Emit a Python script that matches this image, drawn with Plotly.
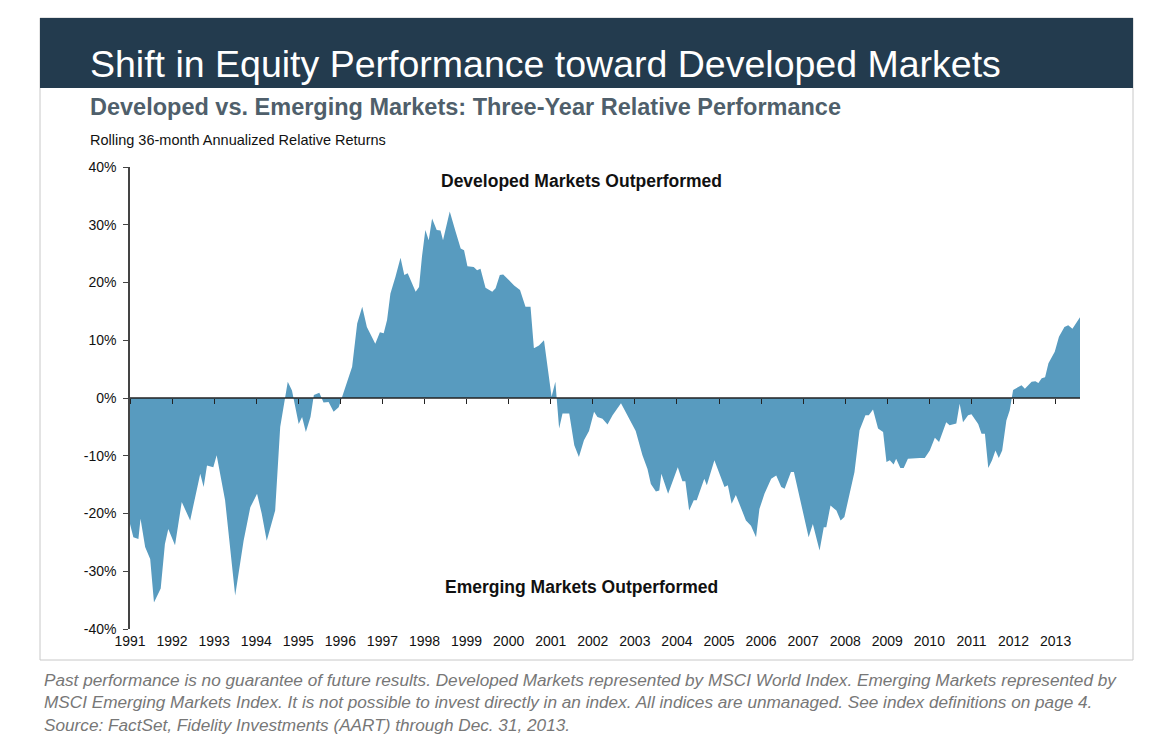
import plotly.graph_objects as go

# years after Jan 1991
offsets = [0, .08, .20, .25, .36, .48, .57, .73, .83, .91, 1.07, 1.23, 1.43, 1.67, 1.75, 1.83, 1.98, 2.06,
           2.26, 2.50, 2.70, 2.86, 3.02, 3.13, 3.25, 3.45, 3.57, 3.75, 3.85, 4.01, 4.09, 4.18, 4.29, 4.37,
           4.50, 4.60, 4.72, 4.84, 4.96, 5.08, 5.20, 5.28, 5.40, 5.52, 5.63, 5.83, 5.94, 6.03, 6.11, 6.19,
           6.31, 6.43, 6.52, 6.60, 6.79, 6.87, 6.94, 7.02, 7.10, 7.18, 7.29, 7.38, 7.44, 7.60, 7.74, 7.86,
           7.94, 8.02, 8.17, 8.25, 8.33, 8.45, 8.61, 8.69, 8.79, 8.87, 9.01, 9.13, 9.27, 9.40, 9.52, 9.60,
           9.72, 9.84, 10.02, 10.11, 10.20, 10.28, 10.44, 10.56,
           10.67, 10.79, 10.91, 11.03, 11.11, 11.23, 11.35, 11.47, 11.67, 11.87, 12.02, 12.18, 12.30, 12.38,
           12.50, 12.58, 12.63, 12.79, 13.02, 13.13, 13.20, 13.29, 13.40, 13.47, 13.65, 13.71, 13.89, 14.13,
           14.21, 14.30, 14.40, 14.64, 14.76, 14.88, 14.96, 15.08, 15.24, 15.36, 15.48, 15.56, 15.71, 15.78,
           15.95, 16.13, 16.23, 16.39, 16.49, 16.55, 16.65, 16.79, 16.89, 16.98, 17.22, 17.34, 17.48, 17.56,
           17.66, 17.78, 17.90, 17.98, 18.06, 18.15, 18.21, 18.31, 18.39, 18.49, 18.77, 18.89, 19.01, 19.13,
           19.23, 19.33, 19.40, 19.48, 19.64, 19.72, 19.80, 19.92, 20.00, 20.16, 20.24, 20.32, 20.40, 20.49,
           20.57, 20.65, 20.73, 20.83, 20.91, 20.99, 21.11, 21.19, 21.27, 21.43, 21.52, 21.59, 21.67, 21.75,
           21.83, 21.98, 22.08, 22.21, 22.30, 22.40, 22.58]

rel_returns = [-21.8, -24.1, -24.4, -20.9, -25.8, -27.9, -35.4, -33, -25.3, -22.7, -25.5, -18, -21.2, -13.1,
               -15.4, -11.7, -12, -9.9, -17.7, -34.2, -24.7, -18.9, -16.6, -20, -24.7, -19.5, -5, 2.8, 1.3,
               -4.5, -3.3, -5.9, -3.3, 0.5, 0.9, -0.8, -0.7, -2.4, -1.6, 1, 3.6, 5.4, 12.9, 15.8, 12.3, 9.4,
               11.4, 11.2, 13.5, 18.1, 21, 24.3, 21.3, 21.6, 18.4, 19.2, 24.5, 29.1, 27.3, 31.1, 29.1, 29,
               27.3, 32.3, 28.8, 25.9, 25.6, 22.8, 22.7, 22.1, 22.4, 19.1, 18.4, 19, 21.3, 21.4, 20.4, 19.5,
               18.7, 15.8, 15.8, 8.6, 9.1, 10, 0.2, 2.8, -5.3, -2.7, -2.7, -8.2,
               -10.2, -7.3, -5.7, -2.4, -3.3, -3.6, -4.6, -3, -0.9, -3.6, -5.7, -9.9, -12.3, -14.9, -16.2,
               -16, -13.1, -16.6, -12, -14.4, -14.4, -19.5, -17.7, -17.7, -14, -15.1, -10.8, -15.4, -15.1,
               -18.3, -16.8, -21.2, -22.1, -24.1, -19.2, -16.6, -14, -13.4, -15.4, -15.7, -12.8, -12.8,
               -18.3, -24.1, -21.8, -26.4, -22.4, -22.4, -18.6, -19.5, -21.2, -20.6, -12.8, -5.6, -3, -3,
               -2, -5.3, -5.9, -11.1, -10.8, -11.5, -10.5, -12.1, -12.1, -10.5, -10.4, -10.4, -9.1, -6.9,
               -7.6, -5.6, -4.2, -4.7, -4.4, -1, -4.2, -3, -2.8, -4.5, -6.2, -6.2, -12.1, -10.8, -9.1,
               -10.4, -9.1, -3.9, -2.1, 1.4, 1.8, 2.2, 1.6, 2.8, 2.9, 2.6, 3.4, 3.6, 6, 8, 10.6, 12.3,
               12.6, 12, 14]

years = [1991 + o for o in offsets]
tick_years = list(range(1991, 2014))
y_ticks = list(range(-40, 41, 10))

# the page has an 8px body margin, so everything is laid out 8px up/left
OFF = 8
L, R, T, B = 130 - OFF, 88 + OFF, 167 - OFF, 122 + OFF

fig = go.Figure()
fig.add_trace(go.Scatter(x=years, y=rel_returns, fill="tozeroy", mode="lines",
                         line=dict(width=0, color="#589bbf"), fillcolor="#589bbf",
                         hoverinfo="skip", showlegend=False))
# zero line on an overlay axis that carries the year ticks
fig.add_trace(go.Scatter(x=[1991, 2013.58], y=[0, 0], xaxis="x2", mode="lines",
                         line=dict(color="#222", width=1.5), showlegend=False, hoverinfo="skip"))

font = "Liberation Sans, Arial, sans-serif"
fig.update_layout(
    width=1168, height=751,
    margin=dict(l=L, r=R, t=T, b=B),
    plot_bgcolor="white", paper_bgcolor="white",
    font=dict(family=font, color="#111"),
    xaxis=dict(range=[1991, 2013.58], tickvals=tick_years, ticktext=[str(t) for t in tick_years],
               showgrid=False, zeroline=False, showline=False, ticks="", tickfont=dict(size=14),
               ticklabelstandoff=2),
    xaxis2=dict(range=[1991, 2013.58], overlaying="x", anchor="free", position=0.5,
                tickvals=tick_years, showticklabels=False, ticks="outside", ticklen=5,
                tickcolor="#222", showline=False, showgrid=False, zeroline=False),
    yaxis=dict(range=[-40, 40], tickvals=y_ticks, ticktext=[f"{v}%" for v in y_ticks],
               showgrid=False, zeroline=False, showline=True, linecolor="#444", linewidth=1.5,
               ticks="outside", ticklen=5, tickcolor="#444", tickfont=dict(size=14),
               ticklabelstandoff=4),
)

pw, ph = 1168 - L - R, 751 - T - B
def px(x): return (x - OFF - L) / pw
def py(y): return (751 - B - (y - OFF)) / ph

texts = [
    ("Shift in Equity Performance toward Developed Markets", 37.5, "white", 88, 64, "left"),
    ("<b>Developed vs. Emerging Markets: Three-Year Relative Performance</b>", 23.5, "#4f5f6b", 88, 107, "left"),
    ("Rolling 36-month Annualized Relative Returns", 14.5, "#111", 88, 140, "left"),
    ("<b>Developed Markets Outperformed</b>", 17.5, "#111", 581, 181, "center"),
    ("<b>Emerging Markets Outperformed</b>", 17.5, "#111", 581, 587, "center"),
    ("<i>Past performance is no guarantee of future results. Developed Markets represented by "
     "MSCI World Index. Emerging Markets represented by<br>MSCI Emerging Markets Index. It is not "
     "possible to invest directly in an index. All indices are unmanaged. See index definitions on "
     "page 4.<br>Source: FactSet, Fidelity Investments (AART) through Dec. 31, 2013.</i>",
     17.2, "#777", 42, 702, "left"),
]
for text, size, color, x, y, xa in texts:
    fig.add_annotation(text=text, x=px(x), y=py(y), xref="paper", yref="paper", showarrow=False,
                       xanchor=xa, yanchor="middle", align="left",
                       font=dict(size=size, color=color, family=font))

fig.add_shape(type="rect", xref="paper", yref="paper", x0=px(40), x1=px(1133), y0=py(660), y1=py(18),
              line=dict(color="#c8c8c8", width=1), layer="below")
fig.add_shape(type="rect", xref="paper", yref="paper", x0=px(40), x1=px(1133), y0=py(88), y1=py(18),
              fillcolor="#233b4e", line=dict(width=0))

fig.write_html("out.html")
